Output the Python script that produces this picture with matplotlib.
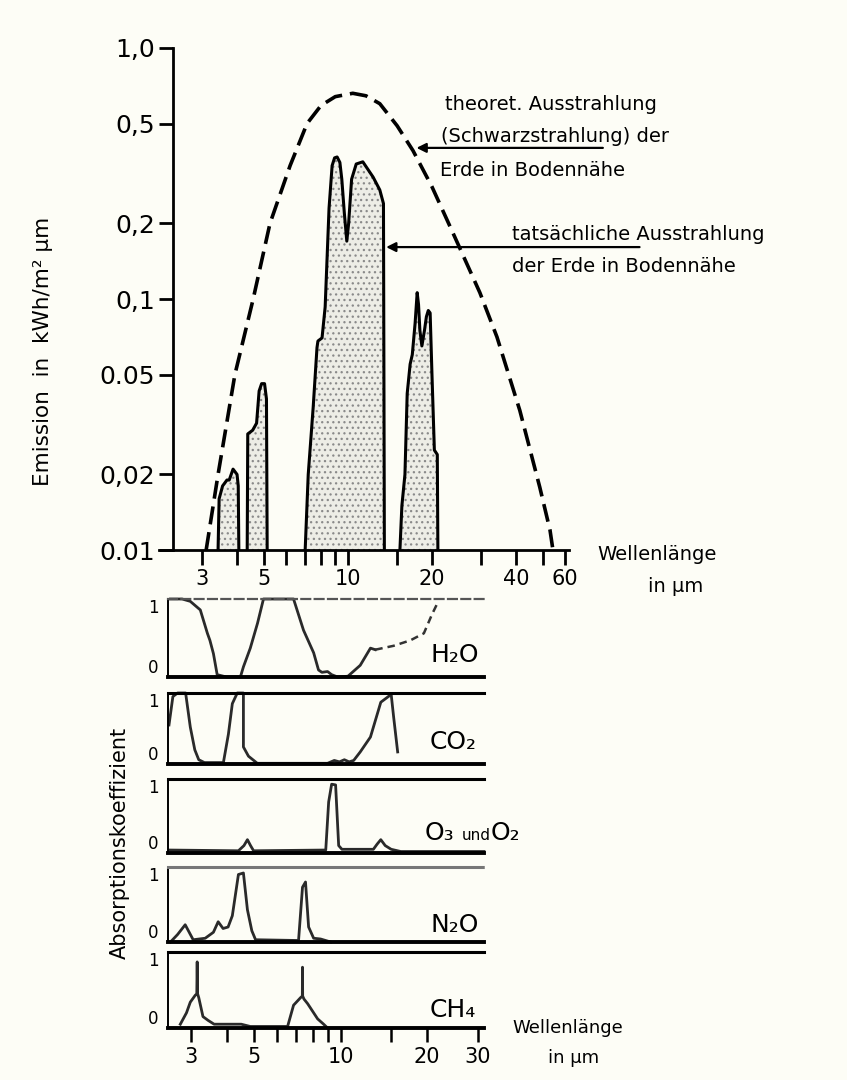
import matplotlib
matplotlib.use("Agg")
import matplotlib.pyplot as plt
from matplotlib.ticker import FixedLocator, NullLocator

plt.rcParams["font.family"] = ["DejaVu Sans"]
plt.rcParams["hatch.linewidth"] = 0.9

# --- emission spectrum (upper chart) ---
# theoretical black-body emission of the ground (dashed)
planck_wl = [3.1, 3.42, 3.93, 4.57, 5.25, 6.2, 7.13, 8.0, 9.0, 10.4, 11.6,
             13.0, 15.0, 17.1, 20.0, 23.8, 29.7, 34.2, 41.3, 48.7, 53.0, 54.3]
planck_em = [0.01, 0.02, 0.05, 0.1, 0.2, 0.34, 0.5, 0.59, 0.64, 0.66, 0.645,
             0.60, 0.49, 0.39, 0.28, 0.183, 0.106, 0.0706, 0.036, 0.0178, 0.012, 0.01]

# actual emission, four atmospheric windows
band1_wl = [3.42, 3.45, 3.55, 3.68, 3.75, 3.87, 4.0, 4.04, 4.06]
band1_em = [0.01, 0.016, 0.018, 0.019, 0.019, 0.021, 0.02, 0.018, 0.01]
band2_wl = [4.35, 4.37, 4.55, 4.7, 4.8, 4.9, 5.02, 5.1, 5.13]
band2_em = [0.01, 0.029, 0.03, 0.032, 0.043, 0.046, 0.046, 0.04, 0.01]
band3_wl = [7.02, 7.2, 7.5, 7.74, 7.8, 8.07, 8.28, 8.55, 8.77, 8.95, 9.14,
            9.35, 9.5, 9.7, 9.9, 10.05, 10.3, 10.7, 11.3, 12.3, 13.0, 13.4, 13.5]
band3_em = [0.01, 0.02, 0.037, 0.064, 0.068, 0.07, 0.093, 0.23, 0.34, 0.365, 0.368,
            0.35, 0.3, 0.22, 0.17, 0.2, 0.3, 0.345, 0.352, 0.306, 0.272, 0.24, 0.01]
band4_wl = [15.35, 15.6, 16.0, 16.3, 16.7, 17.0, 17.4, 17.7, 17.9, 18.1, 18.4,
            18.8, 19.1, 19.4, 19.7, 20.0, 20.4, 20.9, 21.0]
band4_em = [0.01, 0.015, 0.02, 0.042, 0.055, 0.06, 0.08, 0.106, 0.095, 0.075, 0.065,
            0.075, 0.085, 0.09, 0.088, 0.05, 0.025, 0.024, 0.01]

em_ticks = [0.01, 0.02, 0.05, 0.1, 0.2, 0.5, 1.0]
em_labels = ["0.01", "0,02", "0.05", "0,1", "0,2", "0,5", "1,0"]
wl_ticks_top = [3, 4, 5, 6, 7, 8, 9, 10, 15, 20, 30, 40, 50, 60]
wl_labels_top = ["3", "", "5", "", "", "", "", "10", "", "20", "", "40", "", "60"]

# --- absorption coefficients (lower panels) ---
h2o_wl = [2.55, 2.8, 2.99, 3.24, 3.43, 3.5, 3.6, 3.71, 4.0, 4.47, 4.58, 4.84,
          5.13, 5.38, 6.0, 6.85, 7.42, 8.05, 8.37, 8.6, 9.0, 9.3, 9.76, 10.6,
          11.7, 12.7, 13.2]
h2o_ab = [1.0, 1.0, 0.97, 0.86, 0.56, 0.47, 0.3, 0.03, 0.0, 0.0, 0.13, 0.37,
          0.69, 1.0, 1.0, 1.0, 0.6, 0.31, 0.09, 0.06, 0.07, 0.03, 0.0, 0.01,
          0.15, 0.37, 0.35]
h2o_est_wl = [13.2, 15.3, 17.5, 19.5, 20.8, 21.9]
h2o_est_ab = [0.35, 0.4, 0.47, 0.56, 0.8, 0.97]

co2_wl = [2.52, 2.6, 2.7, 2.88, 2.99, 3.1, 3.2, 3.35, 3.6, 3.9, 4.06, 4.19,
          4.36, 4.58, 4.58, 4.77, 5.12, 7.0, 9.0, 9.5, 9.9, 10.3, 10.7, 11.1,
          11.7, 12.7, 13.8, 15.0, 15.3, 15.8]
co2_ab = [0.55, 0.95, 1.0, 1.0, 0.52, 0.2, 0.06, 0.02, 0.02, 0.02, 0.42, 0.85,
          1.0, 1.0, 0.24, 0.11, 0.01, 0.01, 0.01, 0.05, 0.03, 0.06, 0.03, 0.05,
          0.17, 0.38, 0.87, 0.98, 0.66, 0.17]

o3_wl = [2.52, 4.4, 4.6, 4.73, 4.85, 4.97, 8.87, 9.08, 9.3, 9.6, 9.84, 10.1,
         13.0, 13.4, 13.8, 14.3, 15.0, 16.2, 31.6]
o3_ab = [0.04, 0.03, 0.1, 0.18, 0.1, 0.03, 0.04, 0.69, 0.93, 0.92, 0.1, 0.05,
         0.05, 0.12, 0.18, 0.1, 0.05, 0.02, 0.02]

n2o_wl = [2.55, 2.7, 2.87, 3.06, 3.37, 3.6, 3.74, 3.89, 4.05, 4.19, 4.4, 4.58,
          4.73, 4.9, 5.05, 7.13, 7.36, 7.54, 7.73, 8.05, 8.51, 9.23]
n2o_ab = [0.0, 0.1, 0.23, 0.03, 0.05, 0.13, 0.27, 0.18, 0.2, 0.35, 0.9, 0.92,
          0.43, 0.15, 0.03, 0.02, 0.73, 0.8, 0.2, 0.05, 0.04, 0.0]

ch4_wl = [2.76, 2.9, 2.99, 3.11, 3.15, 3.16, 3.17, 3.2, 3.31, 3.45, 3.62, 4.5,
          4.84, 6.53, 6.85, 7.25, 7.35, 7.36, 7.37, 7.45, 7.67, 8.31, 8.72, 9.0]
ch4_ab = [0.05, 0.2, 0.34, 0.43, 0.45, 0.87, 0.45, 0.4, 0.15, 0.1, 0.05, 0.05,
          0.02, 0.02, 0.3, 0.4, 0.42, 0.8, 0.42, 0.38, 0.32, 0.12, 0.05, 0.0]

wl_ticks_low = [3, 4, 5, 6, 7, 8, 9, 10, 15, 20, 30]
wl_labels_low = ["3", "", "5", "", "", "", "", "10", "", "20", "30"]

W, H = 847, 1080


def fxy(x, y):
    # pixel position (from top-left) -> figure fraction
    return x / W, 1 - y / H


fig = plt.figure(figsize=(W / 100, H / 100), dpi=100)
fig.patch.set_facecolor("#fdfdf6")

# ---------------- upper chart ----------------
ax = fig.add_axes([159 / W, 1 - 550 / H, 410 / W, 502 / H])
ax.set_facecolor("none")
ax.set_xscale("log")
ax.set_yscale("log")
ax.set_xlim(2.1, 62)
ax.set_ylim(0.01, 1.0)

for wl, em in [(band1_wl, band1_em), (band2_wl, band2_em),
               (band3_wl, band3_em), (band4_wl, band4_em)]:
    ax.fill_between(wl, 0.01, em, facecolor="#ededE6", edgecolor="#8a8a8a",
                    hatch="...", linewidth=0, zorder=1)
    ax.plot(wl, em, color="k", lw=2.2, zorder=3)

ax.plot(planck_wl, planck_em, color="k", lw=2.6, linestyle=(0, (5, 2.2)), zorder=3)

for s in ["top", "right"]:
    ax.spines[s].set_visible(False)
ax.spines["left"].set_position(("data", 2.36))
ax.spines["left"].set_linewidth(2)
ax.spines["bottom"].set_linewidth(2)

ax.xaxis.set_major_locator(FixedLocator(wl_ticks_top))
ax.xaxis.set_minor_locator(NullLocator())
ax.set_xticklabels(wl_labels_top)
ax.yaxis.set_major_locator(FixedLocator(em_ticks))
ax.yaxis.set_minor_locator(NullLocator())
ax.set_yticklabels(em_labels)
ax.tick_params(axis="x", direction="out", length=11, width=2, labelsize=15, pad=3)
ax.tick_params(axis="y", direction="out", length=10, width=2, labelsize=18, pad=3)

ax.annotate("", xy=(17.6, 0.40), xytext=(82, 0.40), annotation_clip=False,
            arrowprops=dict(arrowstyle="-|>", lw=1.6, color="k",
                            mutation_scale=14, shrinkA=0, shrinkB=0))
ax.annotate("", xy=(13.7, 0.161), xytext=(111, 0.161), annotation_clip=False,
            arrowprops=dict(arrowstyle="-|>", lw=1.6, color="k",
                            mutation_scale=14, shrinkA=0, shrinkB=0))

txt = dict(fontsize=14, va="center", ha="left")
fig.text(*fxy(445, 105), "theoret. Ausstrahlung", **txt)
fig.text(*fxy(441, 137), "(Schwarzstrahlung) der", **txt)
fig.text(*fxy(440, 170), "Erde in Bodennähe", **txt)
fig.text(*fxy(512, 234), "tatsächliche Ausstrahlung", **txt)
fig.text(*fxy(512, 267), "der Erde in Bodennähe", **txt)

fig.text(*fxy(597, 555), "Wellenlänge", **txt)
fig.text(*fxy(648, 587), "in µm", **txt)
fig.text(*fxy(43, 351), "Emission  in  kWh/m² µm", fontsize=15.5,
         rotation=90, ha="center", va="center")

# ---------------- lower panels ----------------
panel_rows = [(599, 677), (693, 764), (779, 853), (867, 942), (952, 1028)]
panels = [
    ([(h2o_wl, h2o_ab, "-"), (h2o_est_wl, h2o_est_ab, "--")], "H₂O"),
    ([(co2_wl, co2_ab, "-")], "CO₂"),
    ([(o3_wl, o3_ab, "-")], None),
    ([(n2o_wl, n2o_ab, "-")], "N₂O"),
    ([(ch4_wl, ch4_ab, "-")], "CH₄"),
]
label_base = [662, 749, 840, 932, 1017]

for i, ((top, bot), (curves, name)) in enumerate(zip(panel_rows, panels)):
    pax = fig.add_axes([168 / W, 1 - bot / H, 316 / W, (bot - top) / H])
    pax.set_facecolor("none")
    pax.set_xscale("log")
    pax.set_xlim(2.5, 31.6)
    pax.set_ylim(0, 1)
    for wl, ab, ls in curves:
        if ls == "--":
            pax.plot(wl, ab, color="#333333", lw=1.8, linestyle=(0, (3, 2)),
                     clip_on=False)
        else:
            pax.plot(wl, ab, color="#2a2a2a", lw=2.0, clip_on=False)
    pax.spines["right"].set_visible(False)
    pax.spines["left"].set_linewidth(1.4)
    pax.spines["bottom"].set_linewidth(2.8)
    pax.spines["top"].set_linewidth(2.2)
    if i == 0:
        pax.spines["top"].set_linestyle((0, (4, 2)))
        pax.spines["top"].set_color("#555555")
        pax.spines["top"].set_linewidth(1.6)
    if i == 3:
        pax.spines["top"].set_color("#777777")
        pax.spines["top"].set_linestyle((0, (1, 1)))
    pax.set_yticks([0, 1])
    pax.set_yticklabels(["0", "1"])
    pax.tick_params(axis="y", length=0, labelsize=12, pad=7)
    lo, hi = pax.get_yticklabels()
    lo.set_va("bottom")
    hi.set_va("top")
    pax.xaxis.set_major_locator(FixedLocator(wl_ticks_low))
    pax.xaxis.set_minor_locator(NullLocator())
    if i == 4:
        pax.set_xticklabels(wl_labels_low)
        pax.tick_params(axis="x", direction="out", length=10, width=1.8,
                        labelsize=15, pad=4)
    else:
        pax.tick_params(axis="x", length=0, labelbottom=False)
    if name:
        fig.text(*fxy(430, label_base[i]), name, fontsize=18, ha="left",
                 va="baseline")

# O3 and O2 label: large symbols, small "und"
fig.text(*fxy(425, label_base[2]), "O₃", fontsize=18, ha="left", va="baseline")
fig.text(*fxy(462, label_base[2]), "und", fontsize=11, ha="left", va="baseline")
fig.text(*fxy(491, label_base[2]), "O₂", fontsize=18, ha="left", va="baseline")

fig.text(*fxy(120, 843), "Absorptionskoeffizient", fontsize=15, rotation=90,
         ha="center", va="center")
fig.text(*fxy(512, 1028), "Wellenlänge", fontsize=13, ha="left", va="center")
fig.text(*fxy(548, 1058), "in µm", fontsize=13, ha="left", va="center")

fig.savefig("out.png", dpi=100, facecolor=fig.get_facecolor())
